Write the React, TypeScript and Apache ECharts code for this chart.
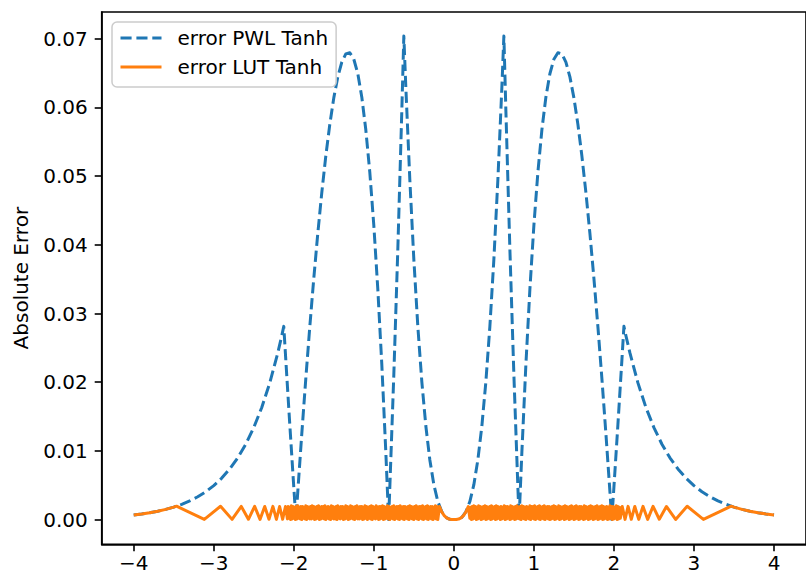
import React, { useEffect, useRef } from "react";
import * as echarts from "echarts";

// Absolute error of a piecewise-linear tanh approximation
const pwlX = [
  -4.0, -3.9, -3.8, -3.7, -3.6, -3.5, -3.4, -3.3, -3.2, -3.1, -3.0, -2.9, -2.8, -2.7, -2.6, -2.5,
  -2.4, -2.3, -2.2, -2.15, -2.125, -2.1, -2.05, -2.0, -1.973, -1.95, -1.9, -1.85, -1.8, -1.75,
  -1.7, -1.65, -1.6, -1.55, -1.5, -1.45, -1.4, -1.35, -1.3, -1.25, -1.2, -1.15, -1.1, -1.05,
  -1.0, -0.95, -0.9, -0.85, -0.815, -0.8, -0.75, -0.7, -0.65, -0.625, -0.6, -0.55, -0.5, -0.45,
  -0.4, -0.35, -0.3, -0.25, -0.2, -0.15, -0.1, -0.05,
  0, 0.05, 0.1, 0.15, 0.2, 0.25, 0.3, 0.35, 0.4, 0.45, 0.5, 0.55, 0.6, 0.625, 0.65, 0.7, 0.75,
  0.8, 0.815, 0.85, 0.9, 0.95, 1.0, 1.05, 1.1, 1.15, 1.2, 1.25, 1.3, 1.35, 1.4, 1.45, 1.5, 1.55,
  1.6, 1.65, 1.7, 1.75, 1.8, 1.85, 1.9, 1.95, 1.973, 2.0, 2.05, 2.1, 2.125, 2.15, 2.2, 2.3, 2.4,
  2.5, 2.6, 2.7, 2.8, 2.9, 3.0, 3.1, 3.2, 3.3, 3.4, 3.5, 3.6, 3.7, 3.8, 3.9, 4.0,
];
const pwlY = [
  0.00067, 0.00082, 0.001, 0.00122, 0.00149, 0.00182, 0.00222, 0.00272, 0.00332, 0.00405, 0.00495,
  0.00604, 0.00737, 0.00899, 0.01097, 0.01339, 0.01632, 0.0199, 0.02426, 0.02677, 0.02813, 0.0233,
  0.01386, 0.00472, 0, 0.00407, 0.01249, 0.0205, 0.02806, 0.03513, 0.04166, 0.04761, 0.05292,
  0.05754, 0.0614, 0.06445, 0.0666, 0.0678, 0.06797, 0.06703, 0.06491, 0.0615, 0.05675, 0.05056,
  0.04284, 0.03353, 0.02255, 0.00982, 0, 0.00471, 0.0211, 0.03938, 0.05958, 0.0704, 0.06295,
  0.04948, 0.03788, 0.0281, 0.02005, 0.01362, 0.00869, 0.00508, 0.00262, 0.00112, 0.00033, 0.00004,
  0, 0.00004, 0.00033, 0.00112, 0.00262, 0.00508, 0.00869, 0.01362, 0.02005, 0.0281, 0.03788,
  0.04948, 0.06295, 0.0704, 0.05958, 0.03938, 0.0211, 0.00471, 0, 0.00982, 0.02255, 0.03353,
  0.04284, 0.05056, 0.05675, 0.0615, 0.06491, 0.06703, 0.06797, 0.0678, 0.0666, 0.06445, 0.0614,
  0.05754, 0.05292, 0.04761, 0.04166, 0.03513, 0.02806, 0.0205, 0.01249, 0.00407, 0, 0.00472,
  0.01386, 0.0233, 0.02813, 0.02677, 0.02426, 0.0199, 0.01632, 0.01339, 0.01097, 0.00899, 0.00737,
  0.00604, 0.00495, 0.00405, 0.00332, 0.00272, 0.00222, 0.00182, 0.00149, 0.00122, 0.001, 0.00082,
  0.00067,
];

// Absolute error of the quantised lookup-table tanh
const lutLeftX = [
  -4.0, -3.9, -3.8, -3.7, -3.6, -3.5, -3.465, -3.118, -2.915, -2.771, -2.656, -2.567, -2.489,
  -2.422, -2.363, -2.31, -2.261, -2.217, -2.177, -2.139, -2.104,
];
const lutLeftY = [
  0.00067, 0.00082, 0.001, 0.00122, 0.00149, 0.00182, 0.00195, 0.00002, 0.00194, 0.00003, 0.00192,
  0.00004, 0.00193, 0.00002, 0.00191, 0.00005, 0.00192, 0.00003, 0.0019, 0.00004, 0.00191,
];

// dense band sampled every 0.01 on x
const lutBandStep = 0.01;
const lutBandLeftStart = -2.08;
const lutBandLeftY = [
  0.0001, 0.0019, 0.0002, 0.0018, 0.0, 0.002, 0.0001, 0.0019, 0.0002, 0.0018,
  0.0, 0.0019, 0.0001, 0.002, 0.0002, 0.0018, 0.0001, 0.0019, 0.0, 0.0019,
  0.0002, 0.0018, 0.0001, 0.002, 0.0, 0.0019, 0.0002, 0.0018, 0.0001, 0.0019,
  0.0001, 0.002, 0.0002, 0.0019, 0.0, 0.0018, 0.0001, 0.0019, 0.0002, 0.002,
  0.0, 0.0018, 0.0001, 0.0019, 0.0002, 0.0019, 0.0001, 0.002, 0.0, 0.0018,
  0.0002, 0.0019, 0.0001, 0.0018, 0.0, 0.002, 0.0002, 0.0019, 0.0001, 0.0018,
  0.0001, 0.0019, 0.0, 0.002, 0.0002, 0.0018, 0.0001, 0.0019, 0.0002, 0.0019,
  0.0, 0.0018, 0.0001, 0.002, 0.0002, 0.0019, 0.0, 0.0018, 0.0001, 0.002,
  0.0002, 0.0019, 0.0001, 0.0018, 0.0, 0.0019, 0.0002, 0.002, 0.0001, 0.0018,
  0.0001, 0.0019, 0.0002, 0.0019, 0.0, 0.0018, 0.0001, 0.002, 0.0002, 0.0019,
  0.0, 0.0018, 0.0002, 0.0019, 0.0001, 0.002, 0.0, 0.0019, 0.0002, 0.0018,
  0.0001, 0.002, 0.0002, 0.0018, 0.0, 0.0019, 0.0001, 0.0019, 0.0002, 0.002,
  0.0, 0.0019, 0.0001, 0.0018, 0.0002, 0.002, 0.0001, 0.0019, 0.0, 0.0018,
  0.0002, 0.0019, 0.0001, 0.002, 0.0, 0.0018, 0.0002, 0.0019, 0.0001, 0.0019,
  0.0, 0.002, 0.0002, 0.0018, 0.0001, 0.0019, 0.0, 0.0019, 0.0002, 0.0018,
  0.0001, 0.0019, 0.0, 0.002, 0.0002, 0.0019, 0.0001, 0.0018, 0.0, 0.0019,
  0.0002, 0.002, 0.0001, 0.0018, 0.0, 0.0019, 0.0002, 0.0019, 0.0001, 0.002,
  0.0, 0.0018, 0.0002, 0.0019, 0.0001, 0.002, 0.0, 0.0018, 0.0002, 0.0019,
  0.0001, 0.0019, 0.0, 0.0018, 0.0002, 0.002, 0.0001, 0.0019, 0.0,
];

const lutCenterX = [-0.18, -0.15, -0.12, -0.09, -0.06, -0.03, 0, 0.03, 0.06, 0.09, 0.12, 0.15, 0.18];
const lutCenterY = [
  0.0019, 0.0011, 0.00057, 0.00024, 0.00007, 0.00001, 0, 0.00001, 0.00007, 0.00024, 0.00057, 0.0011,
  0.0019,
];

const lutBandRightStart = 0.2;
const lutBandRightY = [
  0.0002, 0.0018, 0.0, 0.0019, 0.0001, 0.002, 0.0002, 0.0019, 0.0, 0.0018,
  0.0001, 0.002, 0.0002, 0.0019, 0.0, 0.0018, 0.0001, 0.0019, 0.0002, 0.002,
  0.0, 0.0019, 0.0001, 0.0018, 0.0002, 0.0019, 0.0, 0.002, 0.0001, 0.0018,
  0.0002, 0.0019, 0.0, 0.002, 0.0001, 0.0019, 0.0002, 0.0018, 0.0, 0.0019,
  0.0001, 0.0018, 0.0002, 0.002, 0.0, 0.0019, 0.0001, 0.0019, 0.0002, 0.0018,
  0.0, 0.002, 0.0001, 0.0019, 0.0002, 0.0018, 0.0, 0.0019, 0.0001, 0.002,
  0.0002, 0.0018, 0.0001, 0.0019, 0.0, 0.002, 0.0002, 0.0019, 0.0001, 0.0018,
  0.0, 0.0019, 0.0002, 0.0018, 0.0001, 0.002, 0.0, 0.0019, 0.0002, 0.0019,
  0.0001, 0.002, 0.0, 0.0018, 0.0002, 0.0019, 0.0001, 0.002, 0.0, 0.0018,
  0.0002, 0.0019, 0.0001, 0.002, 0.0, 0.0018, 0.0002, 0.0019, 0.0001, 0.0019,
  0.0, 0.0018, 0.0001, 0.0019, 0.0002, 0.002, 0.0, 0.0019, 0.0001, 0.0018,
  0.0002, 0.002, 0.0, 0.0019, 0.0001, 0.0018, 0.0002, 0.0019, 0.0, 0.002,
  0.0001, 0.0019, 0.0002, 0.0018, 0.0, 0.0019, 0.0001, 0.002, 0.0002, 0.0018,
  0.0, 0.0019, 0.0001, 0.002, 0.0002, 0.0018, 0.0, 0.0019, 0.0001, 0.0019,
  0.0002, 0.0018, 0.0, 0.002, 0.0001, 0.0019, 0.0002, 0.0018, 0.0, 0.0019,
  0.0001, 0.002, 0.0002, 0.0019, 0.0, 0.0018, 0.0001, 0.0019, 0.0002, 0.002,
  0.0, 0.0018, 0.0001, 0.0019, 0.0002, 0.002, 0.0, 0.0019, 0.0001, 0.0018,
  0.0002, 0.0019, 0.0, 0.0018, 0.0001, 0.002, 0.0002, 0.0019, 0.0, 0.0019,
  0.0001, 0.0018, 0.0002, 0.002, 0.0, 0.0019, 0.0001, 0.0018, 0.0002,
];

const lutRightX = [
  2.104, 2.139, 2.177, 2.217, 2.261, 2.31, 2.363, 2.422, 2.489, 2.567, 2.656, 2.771, 2.915, 3.118,
  3.465, 3.5, 3.6, 3.7, 3.8, 3.9, 4.0,
];
const lutRightY = [
  0.00191, 0.00003, 0.00192, 0.00004, 0.00191, 0.00002, 0.00192, 0.00003, 0.00193, 0.00005, 0.00191,
  0.00002, 0.00194, 0.00003, 0.00195, 0.00182, 0.00149, 0.00122, 0.001, 0.00082, 0.00067,
];

const xTicks = [-4, -3, -2, -1, 0, 1, 2, 3, 4];
const yTicks = [0, 0.01, 0.02, 0.03, 0.04, 0.05, 0.06, 0.07];

const FONT = "DejaVu Sans";

function zip(xs: number[], ys: number[]): number[][] {
  return xs.map((x, i) => [x, ys[i]]);
}

function band(start: number, ys: number[]): number[][] {
  return ys.map((y, i) => [Math.round((start + i * lutBandStep) * 1000) / 1000, y]);
}

export default function App() {
  const ref = useRef<HTMLDivElement>(null);

  useEffect(() => {
    if (!ref.current) return;
    const chart = echarts.init(ref.current, undefined, { renderer: "svg" });

    const pwlData = zip(pwlX, pwlY);
    const lutData = [
      ...zip(lutLeftX, lutLeftY),
      ...band(lutBandLeftStart, lutBandLeftY),
      ...zip(lutCenterX, lutCenterY),
      ...band(lutBandRightStart, lutBandRightY),
      ...zip(lutRightX, lutRightY),
    ];

    const axisLine = { show: true, onZero: false, lineStyle: { color: "#000", width: 1.6 } };
    const tickStyle = { color: "#000", width: 1.6 };

    chart.setOption({
      animation: false,
      backgroundColor: "#fff",
      grid: {
        left: 101.7,
        top: 12,
        width: 715,
        height: 532.3,
        show: true,
        borderColor: "#000",
        borderWidth: 1.6,
        backgroundColor: "transparent",
      },
      xAxis: {
        type: "value",
        min: -4.4,
        max: 4.4,
        axisLine,
        splitLine: { show: false },
        axisTick: { show: true, length: 7, lineStyle: tickStyle, customValues: xTicks },
        axisLabel: {
          customValues: xTicks,
          margin: 9,
          fontSize: 20,
          fontFamily: FONT,
          color: "#000",
          formatter: (v: number) => (v < 0 ? "\u2212" + Math.abs(v) : String(v)),
        },
      },
      yAxis: {
        type: "value",
        min: -0.0036,
        max: 0.0739,
        name: "Absolute Error",
        nameLocation: "middle",
        nameGap: 71,
        nameTextStyle: { fontSize: 20, fontFamily: FONT, color: "#000" },
        axisLine,
        splitLine: { show: false },
        axisTick: { show: true, length: 7, lineStyle: tickStyle, customValues: yTicks },
        axisLabel: {
          customValues: yTicks,
          margin: 14,
          fontSize: 20,
          fontFamily: FONT,
          color: "#000",
          formatter: (v: number) => v.toFixed(2),
        },
      },
      legend: {
        orient: "vertical",
        left: 112,
        top: 22,
        padding: [6, 8, 10, 7],
        itemWidth: 41,
        itemHeight: 20,
        itemGap: 9,
        backgroundColor: "rgba(255,255,255,0.8)",
        borderColor: "#cccccc",
        borderWidth: 1.5,
        borderRadius: 5,
        itemStyle: { opacity: 0 },
        lineStyle: { width: 3 },
        textStyle: { fontSize: 20, fontFamily: FONT, color: "#000", padding: [0, 0, 0, 11] },
        data: ["error PWL Tanh", "error LUT Tanh"],
      },
      series: [
        {
          name: "error PWL Tanh",
          type: "line",
          data: pwlData,
          symbol: "none",
          lineStyle: { color: "#1f77b4", width: 3, type: [11.1, 4.8], join: "round" },
          itemStyle: { color: "#1f77b4" },
        },
        {
          name: "error LUT Tanh",
          type: "line",
          data: lutData,
          symbol: "none",
          lineStyle: { color: "#ff7f0e", width: 3, type: "solid", join: "round" },
          itemStyle: { color: "#ff7f0e" },
        },
      ],
    });

    return () => chart.dispose();
  }, []);

  return (
    <div
      ref={ref}
      style={{ position: "fixed", left: 0, top: 0, width: 806, height: 579 }}
    />
  );
}
